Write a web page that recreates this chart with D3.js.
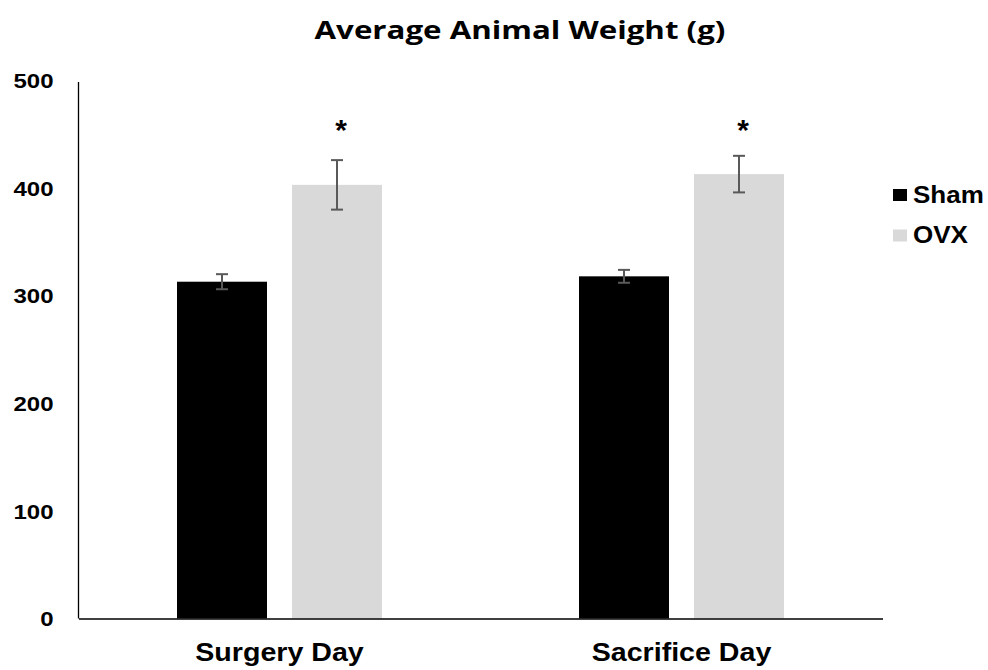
<!DOCTYPE html>
<html>
<head>
  <meta charset="UTF-8">
  <style>
    body { margin: 0; background: white; }
    .tick-label { font-family: "Liberation Sans", Arial, sans-serif; font-weight: bold; font-size: 20px; fill: black; }
    .cat-label { font-family: "Liberation Sans", Arial, sans-serif; font-weight: bold; font-size: 26px; fill: black; }
    .legend { font-family: "Liberation Sans", Arial, sans-serif; font-weight: bold; font-size: 23px; fill: black; }
    .star { font-family: "Liberation Sans", Arial, sans-serif; font-weight: bold; font-size: 30px; fill: black; }
    .title { font-family: "Open Sans", sans-serif; font-weight: bold; font-size: 25px; fill: black; }
  </style>
</head>
<body>
<svg></svg>
<script src="https://d3js.org/d3.v7.min.js"></script>
<script>

let width = 988, height = 670;

// chart data
let categories = ["Surgery Day", "Sacrifice Day"];
let groups = ["Sham", "OVX"];
let shamValues = [313, 318];
let shamErrors = [7, 6];
let ovxValues = [403, 413];
let ovxErrors = [23, 17];
let significant = [true, true];   // stars over OVX
let yTicks = [0, 100, 200, 300, 400, 500];

let colors = { Sham: "#000000", OVX: "#d9d9d9" };

let svg = d3.select("svg")
    .attr("width", width)
    .attr("height", height);

let margin = { left: 78.5, right: 105.5, top: 80.5, bottom: 51.5 };

let x = d3.scaleBand()
    .domain(categories)
    .range([margin.left, width - margin.right]);

// inner scale for the two bars in a group (90px bars, 25px gap)
let xInner = d3.scaleBand()
    .domain(groups)
    .range([0, 205])
    .paddingInner(25 / 115);

let y = d3.scaleLinear()
    .domain([0, 500])
    .range([height - margin.bottom, margin.top]);

// title
svg.append("text")
    .attr("x", 520)
    .attr("y", 39)
    .attr("text-anchor", "middle")
    .attr("class", "title")
    .attr("data-stretch", 1.25)
    .text("Average Animal Weight (g)");

// rows of data
let rows = [];
categories.forEach((c, i) => {
  rows.push({ cat: c, group: "Sham", value: shamValues[i], err: shamErrors[i], star: false });
  rows.push({ cat: c, group: "OVX", value: ovxValues[i], err: ovxErrors[i], star: significant[i] });
});

let groupOffset = (x.bandwidth() - 205) / 2;
let barX = d => x(d.cat) + groupOffset + xInner(d.group);
let barMid = d => barX(d) + xInner.bandwidth() / 2;

// bars
svg.append("g")
  .selectAll("rect")
  .data(rows)
  .enter().append("rect")
    .attr("x", barX)
    .attr("width", xInner.bandwidth())
    .attr("y", d => y(d.value))
    .attr("height", d => y(0) - y(d.value))
    .attr("fill", d => colors[d.group]);

// error bars
let eb = svg.append("g")
    .attr("stroke", "#595959")
    .attr("stroke-width", 2)
  .selectAll("g")
  .data(rows)
  .enter().append("g");

eb.append("line")
    .attr("x1", barMid).attr("x2", barMid)
    .attr("y1", d => y(d.value + d.err))
    .attr("y2", d => y(d.value - d.err));
eb.append("line")
    .attr("x1", d => barMid(d) - 6).attr("x2", d => barMid(d) + 6)
    .attr("y1", d => y(d.value + d.err))
    .attr("y2", d => y(d.value + d.err));
eb.append("line")
    .attr("x1", d => barMid(d) - 6).attr("x2", d => barMid(d) + 6)
    .attr("y1", d => y(d.value - d.err))
    .attr("y2", d => y(d.value - d.err));

// significance stars
svg.append("g")
  .selectAll("text")
  .data(rows.filter(d => d.star))
  .enter().append("text")
    .attr("x", d => barMid(d) + 4)
    .attr("y", 140)
    .attr("text-anchor", "middle")
    .attr("class", "star")
    .text("*");

// y axis
let yAxis = d3.axisLeft(y)
    .tickValues(yTicks)
    .tickSize(0)
    .tickPadding(25);

let yg = svg.append("g")
    .attr("transform", `translate(${margin.left},0)`)
    .call(yAxis);
yg.select(".domain").attr("stroke", "#000").attr("stroke-width", 1.3)
    .attr("d", `M0,${y(500) + 1.5}V${y(0)}`);
yg.selectAll(".tick text").attr("class", "tick-label").attr("dy", "0.36em")
    .attr("data-stretch", 1.2);

// x axis
let xAxis = d3.axisBottom(x).tickSize(0).tickPadding(24);
let xg = svg.append("g")
    .attr("transform", `translate(0,${y(0)})`)
    .call(xAxis);
xg.select(".domain").attr("stroke", "#000").attr("stroke-width", 1.3);
xg.selectAll(".tick text").attr("class", "cat-label").attr("dy", "0.71em")
    .attr("data-stretch", 1.1);

// legend
let legend = svg.append("g")
    .attr("transform", "translate(893,189)");
let li = legend.selectAll("g")
  .data(groups)
  .enter().append("g")
    .attr("transform", (d, i) => `translate(0,${i * 40.5})`);
li.append("rect")
    .attr("width", 14).attr("height", 12)
    .attr("fill", d => colors[d]);
li.append("text")
    .attr("x", 20)
    .attr("y", 13.5)
    .attr("class", "legend")
    .attr("data-stretch", 1.13)
    .text(d => d);

// the reference text is slightly wider than the fonts here, stretch it
svg.selectAll("text[data-stretch]").each(function() {
  let k = +this.getAttribute("data-stretch");
  let w = this.getComputedTextLength();
  d3.select(this).attr("textLength", w * k).attr("lengthAdjust", "spacingAndGlyphs");
});

</script>
</body>
</html>
